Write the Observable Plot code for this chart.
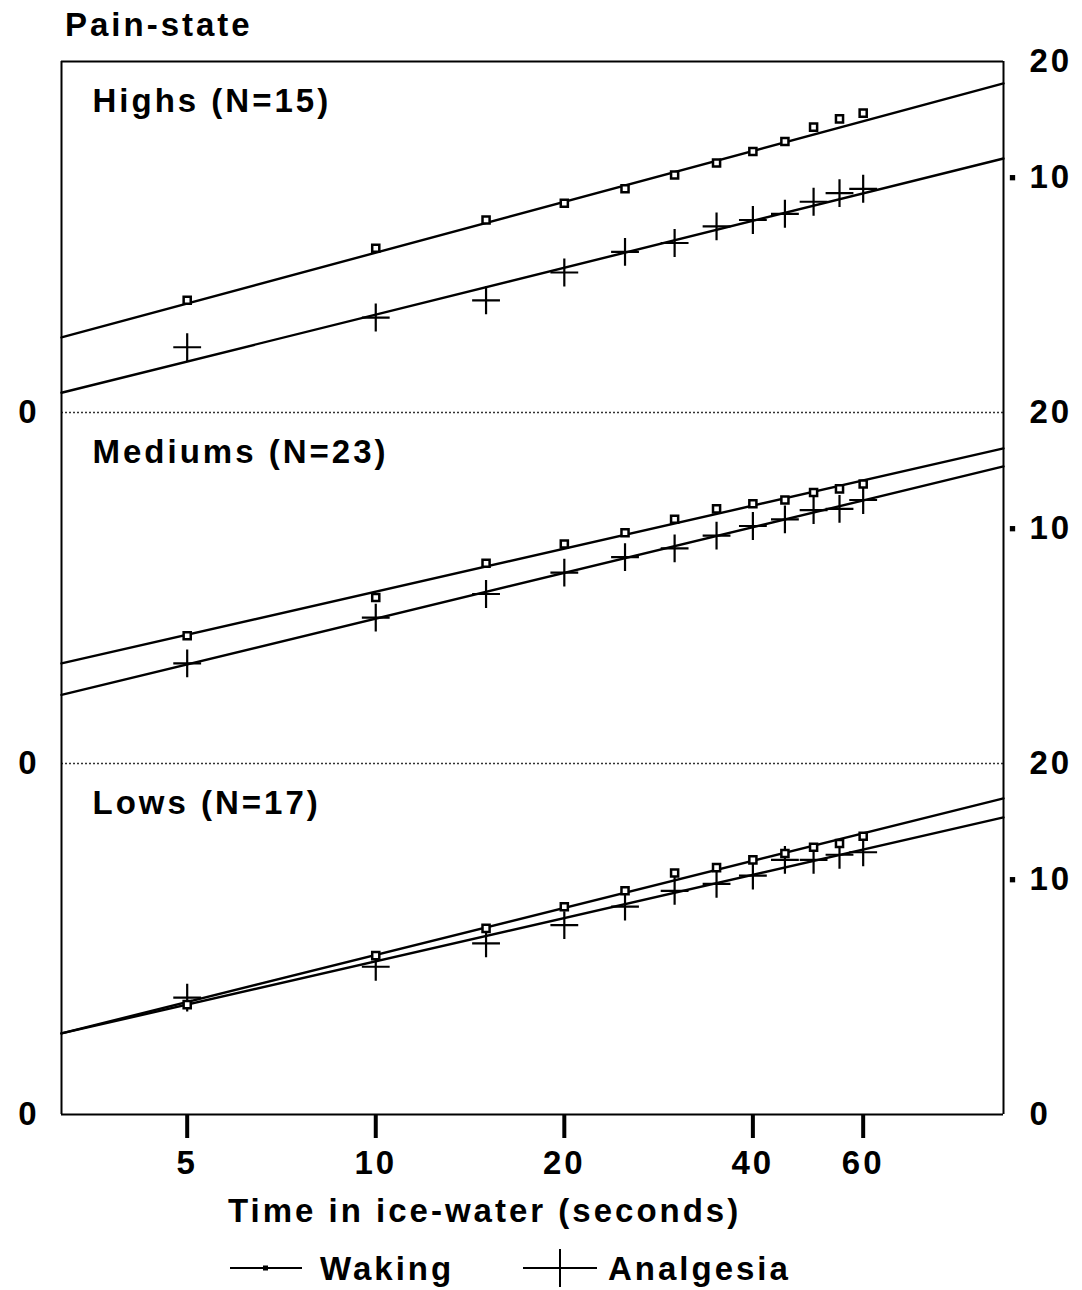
<!DOCTYPE html>
<html><head><meta charset="utf-8">
<script src="https://cdn.jsdelivr.net/npm/d3@7"></script>
<script src="https://cdn.jsdelivr.net/npm/@observablehq/plot@0.6"></script>
<style>
html,body{margin:0;padding:0;background:#fff;}
#wrap{position:relative;width:1082px;height:1290px;font-family:"Liberation Sans",Arial,Helvetica,sans-serif;font-weight:700;font-size:33px;letter-spacing:3px;color:#000;overflow:hidden;}
.lbl{position:absolute;line-height:33px;white-space:nowrap;}
#chart{position:absolute;left:0;top:0;}
.sw{position:absolute;}
</style></head><body>
<div id="wrap">
<div id="chart"></div>
<div class="lbl" style="left:65px;top:8px">Pain-state</div>
<div class="lbl" style="left:228px;top:1194px">Time in ice-water (seconds)</div>
<svg class="sw" style="left:228px;top:1249px" width="76" height="40"><line x1="2" y1="19" x2="74" y2="19" stroke="#000" stroke-width="2"/><rect x="35" y="16.5" width="5" height="5" fill="#000"/></svg>
<div class="lbl" id="lgW" style="left:320px;top:1252px"></div>
<svg class="sw" style="left:521px;top:1246px" width="78" height="44"><line x1="2" y1="22" x2="76" y2="22" stroke="#000" stroke-width="2"/><line x1="39" y1="3" x2="39" y2="41" stroke="#000" stroke-width="2"/></svg>
<div class="lbl" id="lgA" style="left:608px;top:1252px"></div>
</div>
<script>
// ---- data ----
const times = [5, 10, 15, 20, 25, 30, 35, 40, 45, 50, 55, 60];
const panels = ["Highs", "Mediums", "Lows"];
const panelLabels = ["Highs (N=15)", "Mediums (N=23)", "Lows (N=17)"];
const series = ["Waking", "Analgesia"];

const highsWaking      = [2.8, 5.4, 7.1, 8.2, 9.2, 10.2, 11.1, 12.0, 12.8, 14.0, 14.7, 15.2];
const highsAnalgesia   = [1.1, 2.1, 2.8, 4.1, 5.2, 5.7, 6.7, 7.1, 7.5, 8.3, 8.9, 9.2];
const mediumsWaking    = [3.5, 5.5, 7.6, 8.9, 9.7, 10.7, 11.5, 11.9, 12.2, 12.8, 13.1, 13.5];
const mediumsAnalgesia = [2.3, 4.4, 5.7, 7.0, 8.0, 8.6, 9.5, 10.2, 10.7, 11.4, 11.5, 12.2];
const lowsWaking       = [2.7, 5.1, 6.7, 8.1, 9.2, 10.5, 10.9, 11.5, 12.0, 12.5, 12.8, 13.4];
const lowsAnalgesia    = [3.0, 4.5, 5.8, 6.9, 8.1, 9.2, 9.7, 10.3, 11.5, 11.5, 11.9, 12.1];

// fitted lines: value at the left and right ends of the time axis (Highs, Mediums, Lows)
const fitWaking    = [[1.4, 17.9], [2.3, 16.6], [1.6, 16.7]];
const fitAnalgesia = [[0.14, 11.45], [1.2, 15.0], [1.6, 15.0]];

const timeRange = [3.15, 100.5];
const xTicks = [5, 10, 20, 40, 60];
const rightTicks = [10, 20];
const leftTicks = [0];

// ---- build tables ----
const values = {
  Highs: {Waking: highsWaking, Analgesia: highsAnalgesia},
  Mediums: {Waking: mediumsWaking, Analgesia: mediumsAnalgesia},
  Lows: {Waking: lowsWaking, Analgesia: lowsAnalgesia}
};
const points = [];
panels.forEach(p => series.forEach(s => values[p][s].forEach((v, i) =>
  points.push({panel: p, series: s, time: times[i], value: v}))));
const fits = [];
panels.forEach((p, j) => {
  [["Waking", fitWaking[j]], ["Analgesia", fitAnalgesia[j]]].forEach(([s, f]) => {
    fits.push({panel: p, series: s, time: timeRange[0], value: f[0]});
    fits.push({panel: p, series: s, time: timeRange[1], value: f[1]});
  });
});
const panelRows = panels.map((p, i) => ({panel: p, label: panelLabels[i]}));
const dottedRows = [{panel: "Highs", value: 0}, {panel: "Mediums", value: 0}];
const topRow = [{panel: "Highs", value: 20}];
const bottomRow = [{panel: "Lows", value: 0}];

document.getElementById("lgW").textContent = series[0];
document.getElementById("lgA").textContent = series[1];

const chart = Plot.plot({
  width: 1082,
  height: 1190,
  marginLeft: 61,
  marginRight: 79,
  marginTop: 61,
  marginBottom: 76,
  style: "font-family: 'Liberation Sans', Arial, sans-serif; font-weight: 700; letter-spacing: 3px; font-size: 33px; overflow: visible; background: transparent; color: #000;",
  x: {type: "log", domain: timeRange},
  y: {type: "pow", exponent: 0.58, domain: [0, 20]},
  fy: {domain: panels, padding: 0, axis: null},
  marks: [
    Plot.ruleY(dottedRows, {fy: "panel", y: "value", stroke: "#333", strokeWidth: 1.4, strokeDasharray: "2,2"}),
    Plot.ruleY(topRow, {fy: "panel", y: "value", stroke: "#000", strokeWidth: 2}),
    Plot.ruleY(bottomRow, {fy: "panel", y: "value", stroke: "#000", strokeWidth: 2}),
    Plot.ruleX(timeRange, {stroke: "#000", strokeWidth: 2}),
    Plot.line(fits, {x: "time", y: "value", z: "series", fy: "panel", stroke: "#000", strokeWidth: 2.4}),
    Plot.dot(points.filter(d => d.series === "Analgesia"), {x: "time", y: "value", fy: "panel", symbol: "plus", r: 9, stroke: "#000", strokeWidth: 2.2}),
    Plot.dot(points.filter(d => d.series === "Waking"), {x: "time", y: "value", fy: "panel", symbol: "square", r: 4, fill: "#fff", stroke: "#000", strokeWidth: 2.5}),
    Plot.text(panelRows, {fy: "panel", text: "label", frameAnchor: "top-left", textAnchor: "start", lineAnchor: "top", dx: 31, dy: 27, fontSize: 33, fill: "#000"}),
    Plot.axisY(leftTicks, {anchor: "left", tickSize: 0, tickPadding: 22, fontSize: 33, label: null}),
    Plot.axisY(rightTicks, {anchor: "right", tickSize: 0, tickPadding: 26, fontSize: 33, label: null}),
    Plot.text(bottomRow, {fy: "panel", y: "value", text: d => String(d.value), frameAnchor: "right", textAnchor: "start", dx: 26, fontSize: 33, fill: "#000"}),
    Plot.dot([10], {y: d => d, frameAnchor: "right", dx: 9, symbol: "square", r: 3, fill: "#000"}),
    Plot.axisX(xTicks, {tickSize: 24, tickPadding: 12, strokeWidth: 4, fontSize: 33, tickFormat: d => String(d), label: null})
  ]
});
document.getElementById("chart").appendChild(chart);
</script>
</body></html>
